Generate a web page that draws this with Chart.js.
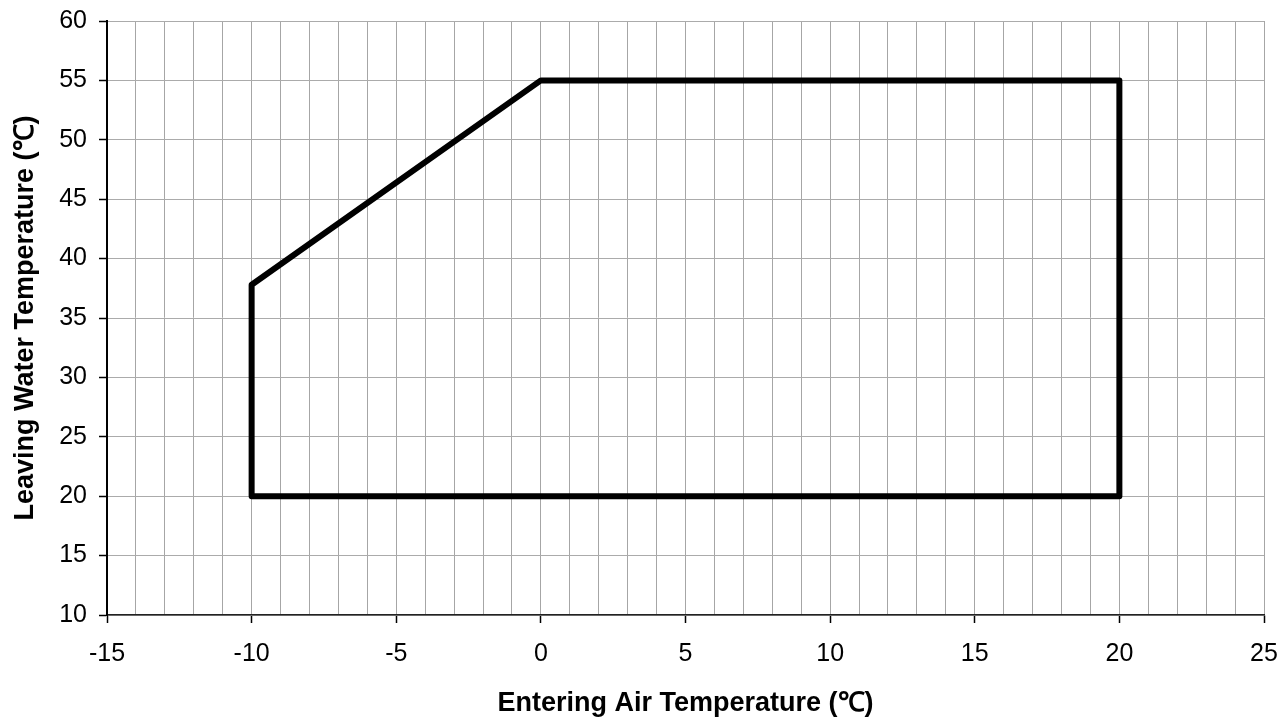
<!DOCTYPE html>
<html>
<head>
<meta charset="utf-8">
<script src="https://cdn.jsdelivr.net/npm/chart.js@4/dist/chart.umd.min.js"></script>
<style>
html,body{margin:0;padding:0;background:#fff;}
#wrap{width:1285px;height:720px;}
</style>
</head>
<body>
<div id="wrap"><canvas id="c" width="1285" height="720"></canvas></div>
<script>
// Envelope polygon (Entering air temp, Leaving water temp)
const airTemps   = [-10, -10, 0, 20, 20, -10];
const waterTemps = [20, 37.8, 55, 55, 20, 20];
const xTickRange = [-15, 25];
const yTickRange = [10, 60];
const xTitle = 'Entering Air Temperature (℃)';
const yTitle = 'Leaving Water Temperature (℃)';

const points = airTemps.map((x, i) => ({x: x, y: waterTemps[i]}));
const FONT = '"Liberation Sans", Arial, sans-serif';

new Chart(document.getElementById('c'), {
  type: 'scatter',
  data: {
    datasets: [{
      data: points,
      showLine: true,
      borderColor: '#000',
      borderWidth: 6,
      pointRadius: 0,
      borderJoinStyle: 'round',
      borderCapStyle: 'round',
      tension: 0
    }]
  },
  options: {
    responsive: false,
    animation: false,
    devicePixelRatio: 1,
    layout: {padding: {top: 21, right: 21, left: 0, bottom: 0}},
    plugins: {legend: {display: false}, tooltip: {enabled: false}},
    scales: {
      x: {
        type: 'linear',
        min: xTickRange[0], max: xTickRange[1],
        afterFit: s => { s.height = 105; s.paddingLeft = 0; s.paddingRight = 0; },
        ticks: {
          stepSize: 1,
          autoSkip: false,
          maxRotation: 0,
          padding: 16,
          color: '#000',
          font: {family: FONT, size: 25},
          callback: v => (v % 5 === 0 ? String(v) : '')
        },
        grid: {
          color: '#a6a6a6',
          lineWidth: 1,
          tickLength: 8,
          tickColor: ctx => (ctx.tick && ctx.tick.value % 5 === 0 ? '#000' : 'rgba(0,0,0,0)'),
          tickWidth: 1.5
        },
        border: {color: '#222', width: 1.5},
        title: {
          display: true,
          text: xTitle,
          color: '#000',
          font: {family: FONT, size: 27, weight: 'bold'},
          padding: {top: 0, bottom: 0}
        }
      },
      y: {
        type: 'linear',
        min: yTickRange[0], max: yTickRange[1],
        afterFit: s => { s.width = 107; s.paddingTop = 0; s.paddingBottom = 0; },
        ticks: {
          stepSize: 5,
          padding: 12,
          color: '#000',
          font: {family: FONT, size: 25}
        },
        grid: {
          color: '#ababab',
          lineWidth: 1,
          tickLength: 8,
          tickColor: '#000',
          tickWidth: 1.5
        },
        border: {color: '#000', width: 2},
        title: {
          display: true,
          text: yTitle,
          color: '#000',
          font: {family: FONT, size: 27, weight: 'bold'},
          padding: {top: 9, bottom: 0}
        }
      }
    }
  }
});
</script>
</body>
</html>
